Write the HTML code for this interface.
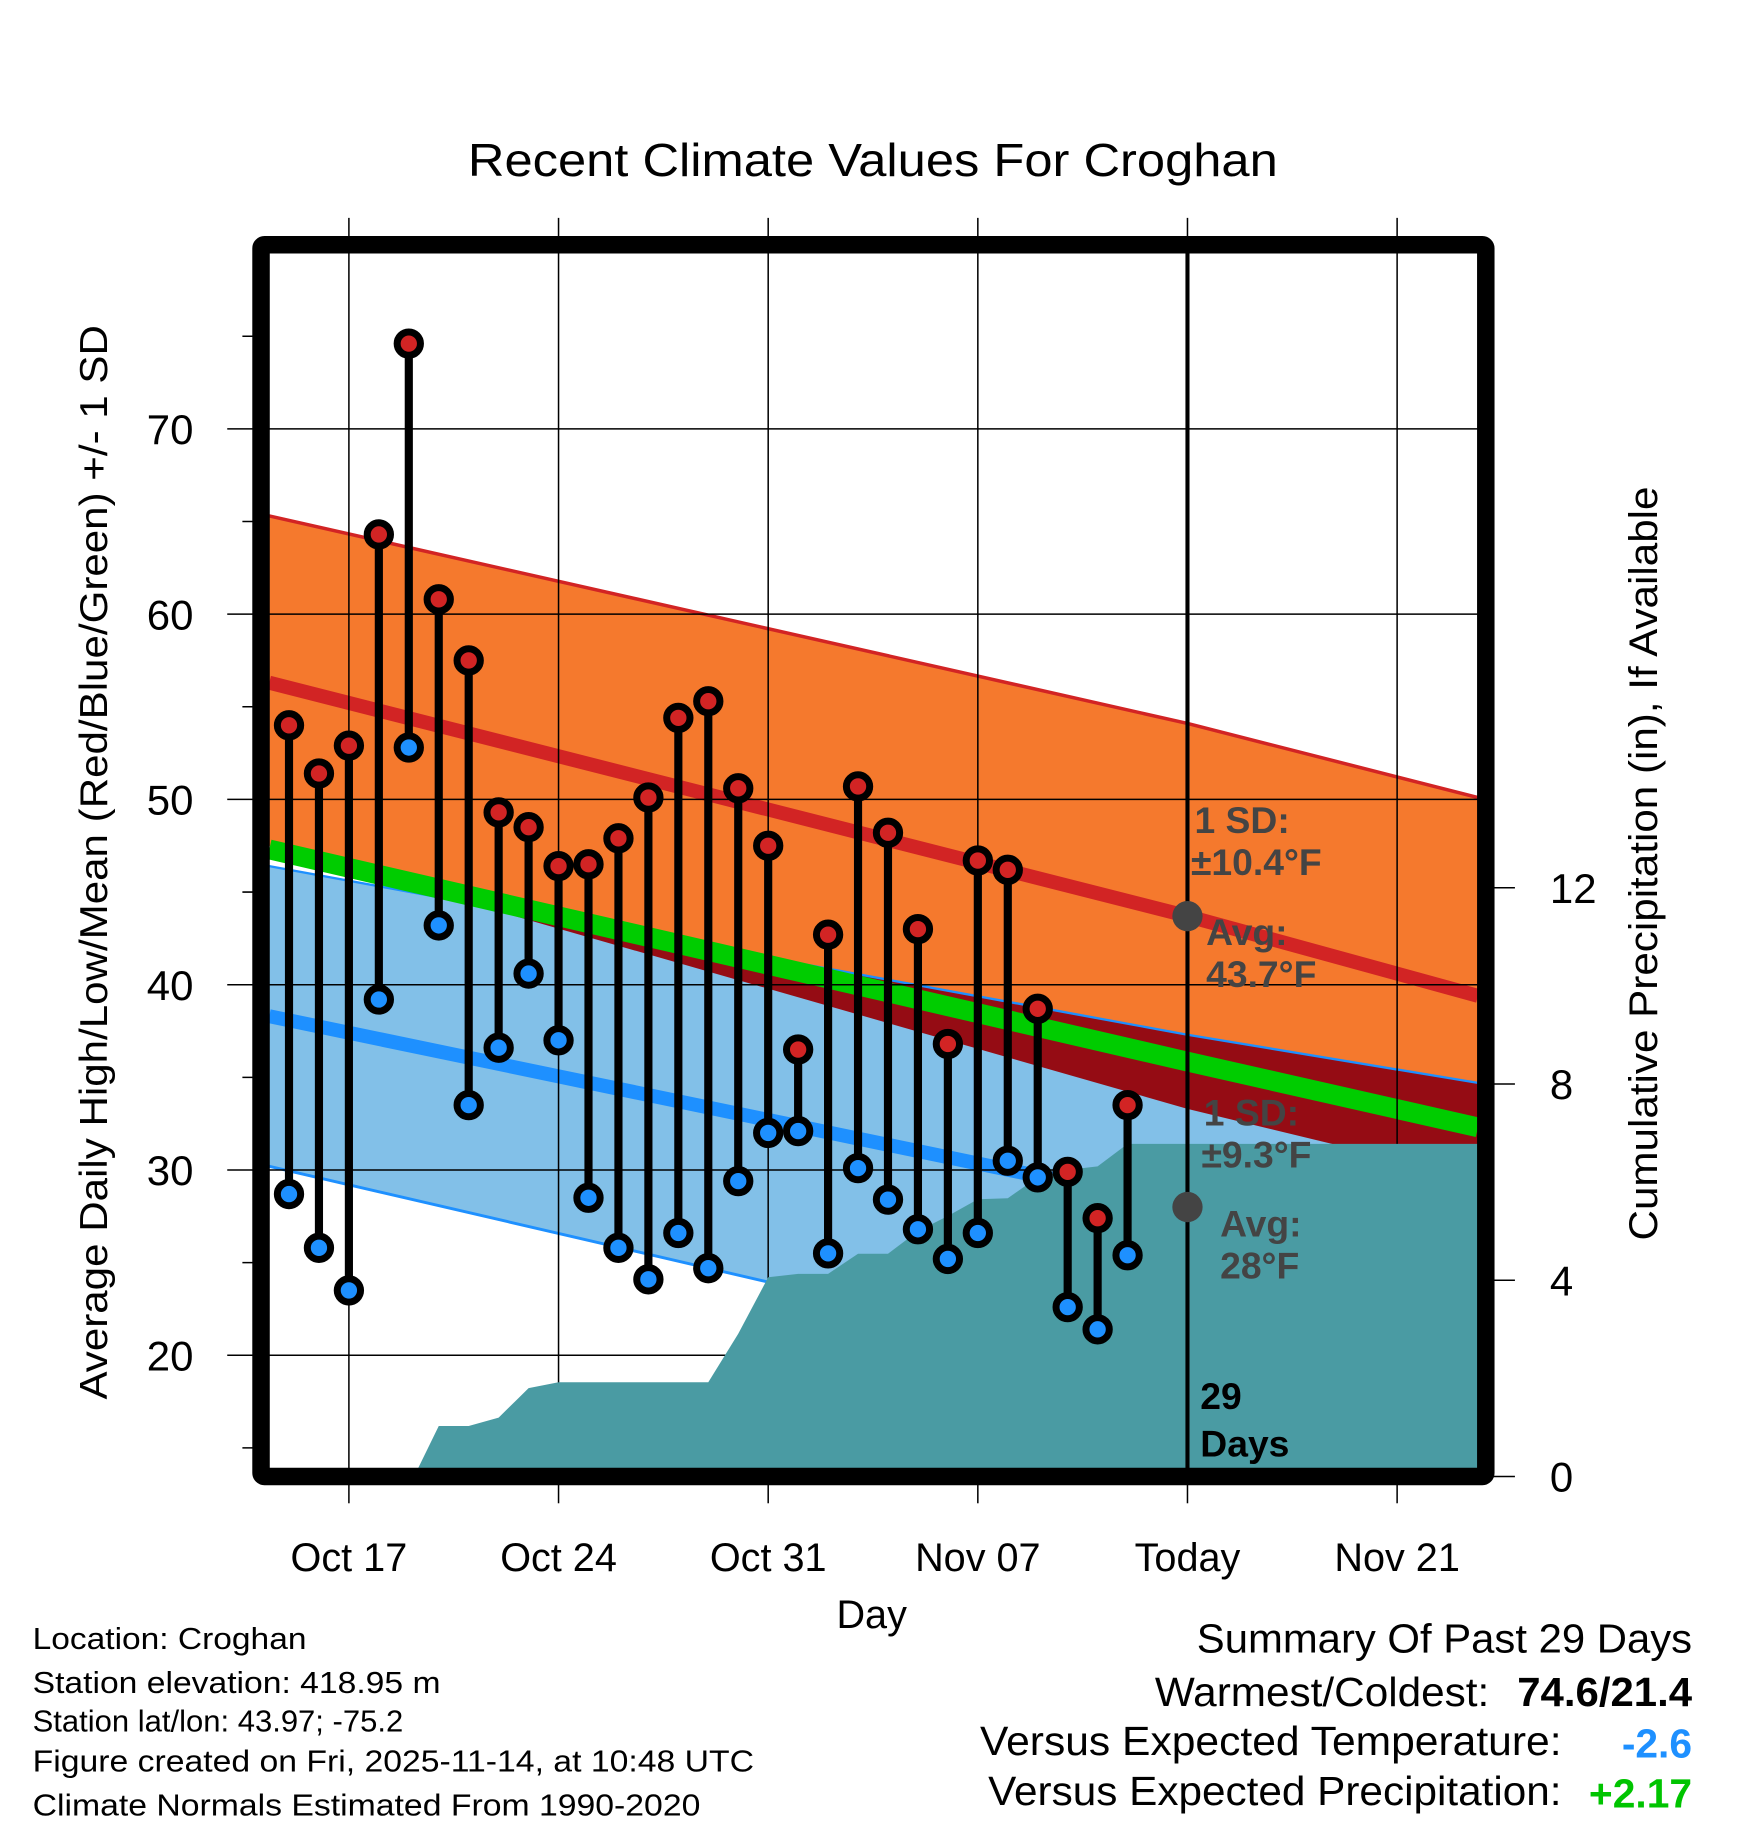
<!DOCTYPE html>
<html><head><meta charset="utf-8"><style>
html,body{margin:0;padding:0;background:#fff;}
svg{display:block;font-family:"Liberation Sans",sans-serif;}
</style></head><body>
<svg id="chart" width="1748" height="1828" viewBox="0 0 1500 1568.65" preserveAspectRatio="none" xmlns="http://www.w3.org/2000/svg">
<defs>
<clipPath id="plotClip"><rect x="231" y="217" width="1037" height="1043"/></clipPath>
<clipPath id="orangeClip"><polygon id="orangeClipPoly" points=""/></clipPath>
</defs>
<g id="plot" clip-path="url(#plotClip)"></g>
<g id="over"></g>
<text x="749" y="151" font-size="40" text-anchor="middle" textLength="695" lengthAdjust="spacingAndGlyphs">Recent Climate Values For Croghan</text>
<text x="748" y="1397" font-size="34" text-anchor="middle">Day</text>
<text transform="translate(92,740) rotate(-90)" font-size="33" text-anchor="middle" textLength="922" lengthAdjust="spacingAndGlyphs">Average Daily High/Low/Mean (Red/Blue/Green) +/- 1 SD</text>
<text transform="translate(1422,741) rotate(-90)" font-size="34" text-anchor="middle" textLength="647" lengthAdjust="spacingAndGlyphs">Cumulative Precipitation (in), If Available</text>
<g font-size="26">
<text x="28" y="1415" textLength="235" lengthAdjust="spacingAndGlyphs">Location: Croghan</text>
<text x="28" y="1453" textLength="350" lengthAdjust="spacingAndGlyphs">Station elevation: 418.95 m</text>
<text x="28" y="1486" textLength="318" lengthAdjust="spacingAndGlyphs">Station lat/lon: 43.97; -75.2</text>
<text x="28" y="1520" textLength="619" lengthAdjust="spacingAndGlyphs">Figure created on Fri, 2025-11-14, at 10:48 UTC</text>
<text x="28" y="1558" textLength="573" lengthAdjust="spacingAndGlyphs">Climate Normals Estimated From 1990-2020</text>
</g>
<g font-size="35" text-anchor="end">
<text x="1452" y="1418" textLength="425" lengthAdjust="spacingAndGlyphs">Summary Of Past 29 Days</text>
<text x="1278" y="1464" textLength="287" lengthAdjust="spacingAndGlyphs">Warmest/Coldest:</text>
<text x="1452" y="1464" font-weight="bold" textLength="150" lengthAdjust="spacingAndGlyphs">74.6/21.4</text>
<text x="1340" y="1506" textLength="499" lengthAdjust="spacingAndGlyphs">Versus Expected Temperature:</text>
<text x="1452" y="1508" font-weight="bold" fill="#1e90ff">-2.6</text>
<text x="1340" y="1549" textLength="492" lengthAdjust="spacingAndGlyphs">Versus Expected Precipitation:</text>
<text x="1452" y="1551" font-weight="bold" fill="#00c400">+2.17</text>
</g>
</svg>
<script>
// ---- data ----
const dayLabels = ["Oct 17","Oct 24","Oct 31","Nov 07","Today","Nov 21"];
const labelDays = [2,9,16,23,30,37]; // days since Oct 15
const highs = [54.0,51.4,52.9,64.3,74.6,60.8,57.5,49.3,48.5,46.4,46.5,47.9,50.1,54.4,55.3,50.6,47.5,36.5,42.7,50.7,48.2,43.0,36.8,46.7,46.2,38.7,29.9,27.4,33.5];
const lows  = [28.7,25.8,23.5,39.2,52.8,43.2,33.5,36.6,40.6,37.0,28.5,25.8,24.1,26.6,24.7,29.4,32.0,32.1,25.5,30.1,28.4,26.8,25.2,26.6,30.5,29.6,22.6,21.4,25.4];
const precip = [0,0,0,0,0,1.03,1.03,1.20,1.80,1.92,1.92,1.92,1.92,1.92,1.92,2.91,4.06,4.13,4.13,4.54,4.54,5.0,5.31,5.65,5.67,6.1,6.25,6.32,6.78];
const normDays = [-0.66,30,39.7];
const avgHigh = [56.3,43.7,39.4];
const highUpper = [65.3,54.1,50.1];
const highLower = [47.5,33.3,29.5];
const avgLow = [38.3,28.0,24.5];
const lowUpper = [46.4,37.3,34.7];
const lowLower = [30.2,18.7,15.0];
const meanLine = [47.3,35.85,32.3];
const yTicks = [20,30,40,50,60,70];
const yMinor = [15,25,35,45,55,65,75];
const pTicks = [0,4,8,12];

// ---- axes ----
const X0=248, DX=25.7;
const xs = d => X0 + d*DX;
const ys = v => 686 - (v-50)*15.9;
const yp = v => 1267 - v*42.1;
const NS="http://www.w3.org/2000/svg";
const plot=document.getElementById('plot'), over=document.getElementById('over');
function mk(tag,attrs,parent){const e=document.createElementNS(NS,tag);for(const k in attrs)e.setAttribute(k,attrs[k]);parent.appendChild(e);return e;}
const pts=(days,vals)=>days.map((d,i)=>xs(d)+','+ys(vals[i]));
const band=(up,lo)=>pts(normDays,up).concat(pts(normDays,lo).reverse()).join(' ');

let e;
e=mk('polygon',{points:band(highUpper,highLower),fill:'#f5792d'},plot);


document.getElementById('orangeClipPoly').setAttribute('points',band(highUpper,highLower));
e=mk('polygon',{points:band(lowUpper,lowLower),fill:'#82c0e8'},plot);


e=mk('polygon',{points:band(lowUpper,lowLower),fill:'#950c14','clip-path':'url(#orangeClip)'},plot);


e=mk('polyline',{points:pts(normDays,highUpper).join(' '),fill:'none',stroke:'#d22424','stroke-width':3},plot);


e=mk('polyline',{points:pts(normDays,lowUpper).join(' '),fill:'none',stroke:'#1e90ff','stroke-width':2},plot);


e=mk('polyline',{points:pts(normDays,lowLower).join(' '),fill:'none',stroke:'#1e90ff','stroke-width':2.5},plot);


e=mk('polyline',{points:pts(normDays,meanLine).join(' '),fill:'none',stroke:'#00cc00','stroke-width':17},plot);


e=mk('polyline',{points:pts(normDays,avgHigh).join(' '),fill:'none',stroke:'#d22424','stroke-width':12},plot);


e=mk('polyline',{points:pts(normDays,avgLow).join(' '),fill:'none',stroke:'#1e90ff','stroke-width':12},plot);



// gridlines
yTicks.forEach(v=>{
  const g=mk('line',{x1:195,x2:1268,y1:ys(v),y2:ys(v),stroke:'#000','stroke-width':1.3},over);
  
  
});
yMinor.forEach(v=>{
  const g=mk('line',{x1:208,x2:222,y1:ys(v),y2:ys(v),stroke:'#000','stroke-width':1.3},over);
  
  
});
// precip area
let pp=[xs(4)+7+','+1262];
precip.forEach((v,i)=>{ if(i>=5) pp.push(xs(i)+','+yp(v)); });
pp.push('1268,'+yp(precip[precip.length-1]),'1268,1262');
labelDays.forEach((d,i)=>{
  const top=mk('line',{x1:xs(d),x2:xs(d),y1:187,y2:1260,stroke:'#000','stroke-width':1.3},over);
  
  
  const b=mk('line',{x1:xs(d),x2:xs(d),y1:1268,y2:1290,stroke:'#000','stroke-width':1.3},over);
  
  
  const t=mk('text',{x:xs(d),y:1348,'font-size':34,'text-anchor':'middle'},over);
  t.textContent=dayLabels[i];
  
  
});
e=mk('polygon',{points:pp.join(' '),fill:'#4a9ba3'},over);


// today line
e=mk('line',{x1:xs(30),x2:xs(30),y1:217,y2:1260,stroke:'#000','stroke-width':3.5},over);


yTicks.forEach(v=>{
  const t=mk('text',{x:166,y:ys(v)+13,'font-size':36,'text-anchor':'end'},over);
  t.textContent=v;
  
  
});
pTicks.forEach(v=>{
  const l=mk('line',{x1:1276,x2:1300,y1:yp(v),y2:yp(v),stroke:'#000','stroke-width':1.3},over);
  
  
  const t=mk('text',{x:1330,y:yp(v)+13,'font-size':36,'text-anchor':'start'},over);
  t.textContent=v;
  
  
});
// stems & markers
highs.forEach((h,i)=>{
  const s=mk('line',{x1:xs(i),x2:xs(i),y1:ys(h),y2:ys(lows[i]),stroke:'#000','stroke-width':7},over);
  
  
});
highs.forEach((h,i)=>{
  const a=mk('circle',{cx:xs(i),cy:ys(h),r:10,fill:'#d22424',stroke:'#000','stroke-width':6},over);
  
  
  const b=mk('circle',{cx:xs(i),cy:ys(lows[i]),r:10,fill:'#1e90ff',stroke:'#000','stroke-width':6},over);
  
  
});
// annotations
e=mk('circle',{cx:xs(30),cy:ys(avgHigh[1]),r:13,fill:'#444'},over);


e=mk('circle',{cx:xs(30),cy:ys(avgLow[1]),r:13,fill:'#444'},over);


const ann=[[1025,715,'1 SD:','#444'],[1022,751,'±10.4°F','#444'],[1035,811,'Avg:','#444'],[1035,847,'43.7°F','#444'],
[1033,966,'1 SD:','#444'],[1031,1002,'±9.3°F','#444'],[1047,1061,'Avg:','#444'],[1047,1097,'28°F','#444'],
[1030,1209,'29','#000'],[1030,1250,'Days','#000']];
ann.forEach(a=>{
  const t=mk('text',{x:a[0],y:a[1],'font-size':32,'font-weight':'bold',fill:a[3]},over);
  t.textContent=a[2];
  
  
});
// frame
e=mk('rect',{x:224,y:210,width:1051,height:1057,fill:'none',stroke:'#000','stroke-width':15,rx:3},over);


</script>
</body></html>
